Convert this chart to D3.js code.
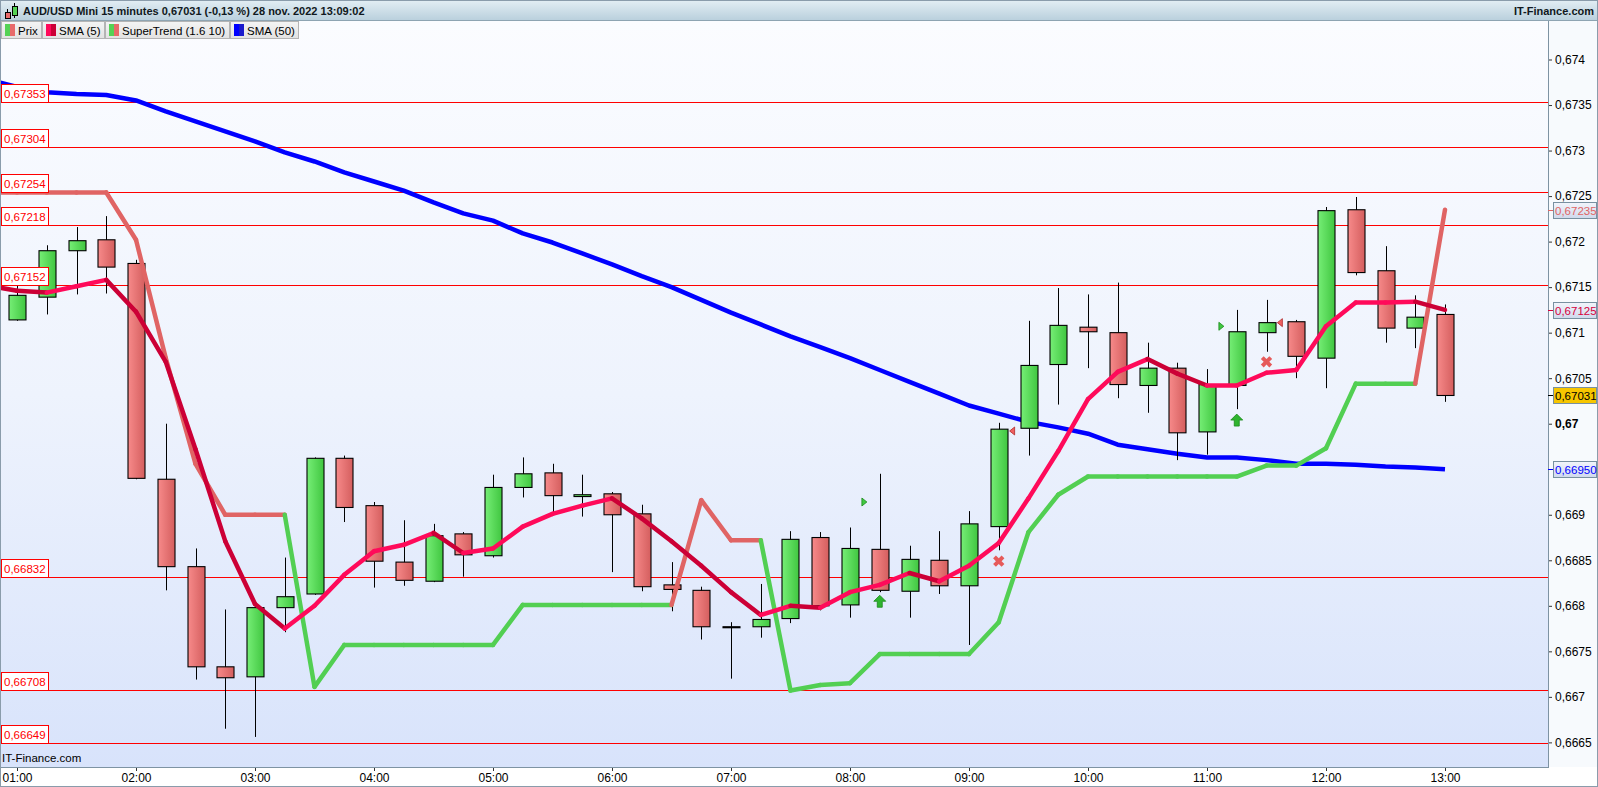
<!DOCTYPE html>
<html>
<head>
<meta charset="utf-8">
<script src="https://cdn.jsdelivr.net/npm/d3@7"></script>
<style>
  body { margin: 0; background: #fff; }
  svg { display: block; font-family: "Liberation Sans", Arial, sans-serif; }
</style>
</head>
<body>
<svg id="chart"></svg>
<script>
// ---------------------------------------------------------------- data
var times = ["01:00","01:15","01:30","01:45","02:00","02:15","02:30","02:45","03:00","03:15","03:30","03:45",
  "04:00","04:15","04:30","04:45","05:00","05:15","05:30","05:45","06:00","06:15","06:30","06:45",
  "07:00","07:15","07:30","07:45","08:00","08:15","08:30","08:45","09:00","09:15","09:30","09:45",
  "10:00","10:15","10:30","10:45","11:00","11:15","11:30","11:45","12:00","12:15","12:30","12:45","13:00"]
var opens = [0.67114,0.67139,0.67190,0.67202,0.67176,0.66939,0.66843,0.66733,0.66722,0.66798,0.66813,0.66962,
  0.66910,0.66848,0.66827,0.66879,0.66855,0.66930,0.66946,0.66920,0.66923,0.66901,0.66823,0.66817,
  0.66777,0.66777,0.66786,0.66875,0.66801,0.66862,0.66816,0.66850,0.66822,0.66887,0.66995,0.67065,
  0.67106,0.67100,0.67042,0.67061,0.66991,0.67042,0.67100,0.67112,0.67072,0.67235,0.67168,0.67105,0.67120]
var highs = [0.67152,0.67196,0.67216,0.67228,0.67180,0.67000,0.66863,0.66796,0.66800,0.66853,0.66963,0.66965,
  0.66914,0.66894,0.66890,0.66881,0.66944,0.66963,0.66956,0.66944,0.66925,0.66911,0.66848,0.66821,
  0.66782,0.66824,0.66882,0.66881,0.66886,0.66945,0.66866,0.66882,0.66904,0.67001,0.67113,0.67149,
  0.67142,0.67155,0.67089,0.67067,0.67060,0.67125,0.67136,0.67114,0.67238,0.67249,0.67195,0.67141,0.67131]
var lows = [0.67113,0.67120,0.67142,0.67143,0.66939,0.66817,0.66719,0.66665,0.66656,0.66771,0.66812,0.66892,
  0.66820,0.66822,0.66826,0.66832,0.66853,0.66919,0.66903,0.66898,0.66837,0.66816,0.66794,0.66763,
  0.66720,0.66765,0.66781,0.66795,0.66787,0.66815,0.66787,0.66813,0.66757,0.66861,0.66965,0.67021,
  0.67061,0.67028,0.67012,0.66960,0.66966,0.67016,0.67079,0.67050,0.67039,0.67163,0.67089,0.67083,0.67024]
var closes = [0.67141,0.67190,0.67201,0.67172,0.66940,0.66843,0.66733,0.66721,0.66798,0.66810,0.66962,0.66908,
  0.66849,0.66828,0.66877,0.66856,0.66930,0.66945,0.66921,0.66922,0.66900,0.66821,0.66818,0.66777,
  0.66777,0.66785,0.66873,0.66800,0.66863,0.66817,0.66851,0.66822,0.66890,0.66994,0.67064,0.67108,
  0.67101,0.67043,0.67061,0.66990,0.67043,0.67101,0.67111,0.67074,0.67234,0.67166,0.67105,0.67117,0.67031]

// indicator lines start one bar earlier (00:45) and get clipped at the left border
var lineTimes = ["00:45"].concat(times)
var sma5 = [0.67152,0.67146,0.67144,0.67151,0.67158,0.67123,0.67068,0.66972,0.66871,0.66802,0.66775,0.66800,0.66834,
  0.66860,0.66867,0.66880,0.66858,0.66863,0.66887,0.66901,0.66910,0.66918,0.66896,0.66871,0.66844,
  0.66815,0.66790,0.66800,0.66798,0.66815,0.66823,0.66836,0.66827,0.66844,0.66869,0.66918,0.66970,
  0.67027,0.67057,0.67071,0.67055,0.67042,0.67042,0.67056,0.67059,0.67107,0.67133,0.67133,0.67134,0.67125]
var superTrend = [0.67254,0.67254,0.67254,0.67254,0.67254,0.67202,0.67072,0.66956,0.66900,0.66900,0.66900,0.66711,0.66757,
  0.66757,0.66757,0.66757,0.66757,0.66757,0.66801,0.66801,0.66801,0.66801,0.66801,0.66801,0.66916,
  0.66872,0.66872,0.66707,0.66713,0.66715,0.66747,0.66747,0.66747,0.66747,0.66782,0.66881,0.66922,
  0.66942,0.66942,0.66942,0.66942,0.66942,0.66942,0.66954,0.66954,0.66973,0.67044,0.67044,0.67044,0.67235]
var superTrendDir = ["d","d","d","d","d","d","d","d","d","d","d","u","u","u","u","u","u","u","u","u","u","u","u","u",
  "d","d","d","u","u","u","u","u","u","u","u","u","u","u","u","u","u","u","u","u","u","u","u","u","u","d"]
var sma50 = [0.67378,0.67370,0.67364,0.67362,0.67361,0.67355,0.67343,0.67332,0.67321,0.67310,0.67298,0.67288,0.67276,
  0.67266,0.67256,0.67243,0.67231,0.67223,0.67209,0.67199,0.67187,0.67175,0.67162,0.67150,0.67136,
  0.67122,0.67109,0.67096,0.67084,0.67072,0.67059,0.67046,0.67033,0.67020,0.67011,0.67002,0.66996,
  0.66989,0.66977,0.66972,0.66967,0.66963,0.66963,0.66960,0.66956,0.66956,0.66955,0.66953,0.66952,0.66950]

var levels = [0.67353,0.67304,0.67254,0.67218,0.67152,0.66832,0.66708,0.66649]
// 0,6695 sits under the SMA(50) value box in the reference, so it is left out
var yTicks = [0.674,0.6735,0.673,0.6725,0.672,0.6715,0.671,0.6705,0.67,0.669,0.6685,0.668,0.6675,0.667,0.6665]

var upArrowTimes = ["08:15","11:15"], upArrowValues = [0.66805,0.67004]
var crossTimes = ["09:15","11:30"], crossValues = [0.66849,0.67068]
var buyFlagTimes = ["08:07","11:07"], buyFlagValues = [0.66914,0.67107]
var sellFlagTimes = ["09:22","11:37"], sellFlagValues = [0.66992,0.67111]

var lastValues = [
  { v: 0.67235, color: "#e06464", fill: "url(#boxGrad)" },
  { v: 0.67125, color: "#d6003c", fill: "url(#boxGrad)" },
  { v: 0.67031, color: "#000", fill: "#f7c600" },
  { v: 0.66950, color: "#0000ff", fill: "url(#boxGrad)" }
]

var legendItems = [
  { label: "Prix", c1: "#55d255", c2: "#e86a6a" },
  { label: "SMA (5)", c1: "#ff0a5a", c2: "#cc0036" },
  { label: "SuperTrend (1.6 10)", c1: "#55d255", c2: "#e86a6a" },
  { label: "SMA (50)", c1: "#0000ff", c2: "#1a1acc" }
]

// ---------------------------------------------------------------- layout
var W = 1598, H = 787
var plot = { left: 1, right: 1548, top: 21, bottom: 767 }
var fs = 11.5
var parse = d3.timeParse("%H:%M")
var comma = d3.formatLocale({ decimal: ",", thousands: " ", grouping: [3], currency: ["", ""] })
var fmtTick = comma.format(".6~g"), fmt5 = comma.format(".5f")

var xScale = d3.scaleTime().domain([parse("01:00"), parse("13:00")]).range([17, 1445])
var yScale = d3.scaleLinear().domain([0.67353, 0.66649]).range([102.3, 743.3])

var svg = d3.select("#chart").attr("width", W).attr("height", H)
var defs = svg.append("defs")

function grad(id, x2, y2, stops) {
  var g = defs.append("linearGradient").attr("id", id).attr("x1", 0).attr("y1", 0).attr("x2", x2).attr("y2", y2)
  stops.forEach((s, i) => g.append("stop").attr("offset", i / (stops.length - 1)).attr("stop-color", s))
}
grad("plotBg", 0, 1, ["#fbfcff", "#eef3fd", "#d8e3fb"])
grad("headBg", 0, 1, ["#e3eef4", "#b8cfdc"])
grad("greenBody", 1, 0, ["#76ee76", "#40c640"])
grad("redBody", 1, 0, ["#f78a8a", "#d45e5e"])
grad("boxGrad", 0, 1, ["#f2f5fb", "#cfd9ec"])
grad("legBg", 0, 1, ["#f4f4f4", "#e2e2e2"])

defs.append("clipPath").attr("id", "plotClip").append("rect")
  .attr("x", plot.left).attr("y", plot.top).attr("width", plot.right - plot.left).attr("height", plot.bottom - plot.top)

//------------------------------------------------------------------- backgrounds
svg.append("rect").attr("width", W).attr("height", H).attr("fill", "#fff")
svg.append("rect").attr("x", plot.right).attr("y", plot.top).attr("width", W - plot.right).attr("height", plot.bottom - plot.top).attr("fill", "#f7fafd")
svg.append("rect").attr("x", plot.left).attr("y", plot.top).attr("width", plot.right - plot.left).attr("height", plot.bottom - plot.top).attr("fill", "url(#plotBg)")

var g = svg.append("g").attr("clip-path", "url(#plotClip)")

//------------------------------------------------------------------- level lines
g.selectAll(".level").data(levels).join("line").attr("class", "level")
  .attr("x1", plot.left).attr("x2", plot.right)
  .attr("y1", d => Math.round(yScale(d)) + 0.5).attr("y2", d => Math.round(yScale(d)) + 0.5)
  .attr("stroke", "#ff0000").attr("stroke-width", 1)

//------------------------------------------------------------------- SMA 50
var line = d3.line().x((d, i) => xScale(parse(lineTimes[i]))).y(d => yScale(d))
g.append("path").attr("d", line(sma50)).attr("fill", "none").attr("stroke", "#0000ff")
  .attr("stroke-width", 4.5).attr("stroke-linejoin", "round")

//------------------------------------------------------------------- candles
var bw = 17
var candles = g.selectAll(".candle").data(times).join("g").attr("class", "candle")
  .attr("transform", d => "translate(" + Math.round(xScale(parse(d))) + ",0)")
candles.append("line")
  .attr("x1", 0.5).attr("x2", 0.5)
  .attr("y1", (d, i) => yScale(highs[i])).attr("y2", (d, i) => yScale(lows[i]))
  .attr("stroke", "#000").attr("stroke-width", 1)
candles.append("rect")
  .attr("x", -bw / 2 + 0.5).attr("width", bw)
  .attr("y", (d, i) => yScale(Math.max(opens[i], closes[i])))
  .attr("height", (d, i) => Math.max(1, Math.abs(yScale(opens[i]) - yScale(closes[i]))))
  .attr("fill", (d, i) => closes[i] > opens[i] ? "url(#greenBody)" : closes[i] < opens[i] ? "url(#redBody)" : "#000")
  .attr("stroke", "#000").attr("stroke-width", 1.1)

//------------------------------------------------------------------- SuperTrend
var stSegs = d3.range(1, superTrend.length).map(i => [i - 1, i])
g.selectAll(".st").data(stSegs).join("line").attr("class", "st")
  .attr("x1", d => xScale(parse(lineTimes[d[0]]))).attr("y1", d => yScale(superTrend[d[0]]))
  .attr("x2", d => xScale(parse(lineTimes[d[1]]))).attr("y2", d => yScale(superTrend[d[1]]))
  .attr("stroke", d => superTrendDir[d[1]] == "u" ? "#52cf52" : "#e06464")
  .attr("stroke-width", 4.5).attr("stroke-linecap", "round")

//------------------------------------------------------------------- SMA 5
var smaSegs = d3.range(1, sma5.length).map(i => [i - 1, i])
g.selectAll(".sma5").data(smaSegs).join("line").attr("class", "sma5")
  .attr("x1", d => xScale(parse(lineTimes[d[0]]))).attr("y1", d => yScale(sma5[d[0]]))
  .attr("x2", d => xScale(parse(lineTimes[d[1]]))).attr("y2", d => yScale(sma5[d[1]]))
  .attr("stroke", d => sma5[d[1]] >= sma5[d[0]] ? "#ff0a5a" : "#cc0036")
  .attr("stroke-width", 4.5).attr("stroke-linecap", "round")

//------------------------------------------------------------------- signals
g.selectAll(".uparrow").data(upArrowTimes).join("path").attr("class", "uparrow")
  .attr("transform", (d, i) => "translate(" + xScale(parse(d)) + "," + yScale(upArrowValues[i]) + ")")
  .attr("d", "M0,-6 L6,0 L2.5,0 L2.5,6 L-2.5,6 L-2.5,0 L-6,0 Z")
  .attr("fill", "#2fb42f").attr("stroke", "#1b8a1b").attr("stroke-width", 0.8)
g.selectAll(".cross").data(crossTimes).join("path").attr("class", "cross")
  .attr("transform", (d, i) => "translate(" + xScale(parse(d)) + "," + yScale(crossValues[i]) + ") rotate(45)")
  .attr("d", "M-2,-6 L2,-6 L2,-2 L6,-2 L6,2 L2,2 L2,6 L-2,6 L-2,2 L-6,2 L-6,-2 L-2,-2 Z")
  .attr("fill", "#e65a5a")
g.selectAll(".buyflag").data(buyFlagTimes).join("path").attr("class", "buyflag")
  .attr("transform", (d, i) => "translate(" + xScale(parse(d)) + "," + yScale(buyFlagValues[i]) + ")")
  .attr("d", "M-2,-4 L3,0 L-2,4 Z").attr("fill", "#40c840").attr("stroke", "#1b8a1b").attr("stroke-width", 0.8)
g.selectAll(".sellflag").data(sellFlagTimes).join("path").attr("class", "sellflag")
  .attr("transform", (d, i) => "translate(" + xScale(parse(d)) + "," + yScale(sellFlagValues[i]) + ")")
  .attr("d", "M2,-4 L-3,0 L2,4 Z").attr("fill", "#f06060").attr("stroke", "#b02a2a").attr("stroke-width", 0.8)

//------------------------------------------------------------------- level labels (left)
var lab = svg.selectAll(".lvlLab").data(levels).join("g").attr("class", "lvlLab")
  .attr("transform", d => "translate(1," + (Math.round(yScale(d)) - 17.5) + ")")
lab.append("rect").attr("x", 0.5).attr("width", 47).attr("height", 18).attr("fill", "#fff").attr("stroke", "#ff0000")
lab.append("text").attr("x", 3).attr("y", 13.5).attr("font-size", fs).attr("fill", "#ff0000").text(d => fmt5(d))

svg.append("text").attr("x", 2).attr("y", 762).attr("font-size", fs).attr("fill", "#000").text("IT-Finance.com")

//------------------------------------------------------------------- axes
var yAxis = svg.append("g").attr("transform", "translate(" + plot.right + ",0)")
  .call(d3.axisRight(yScale).tickValues(yTicks).tickSize(4).tickPadding(3).tickFormat(fmtTick))
yAxis.select(".domain").remove()
yAxis.selectAll(".tick line").attr("stroke", "#333")
yAxis.selectAll(".tick text").attr("font-size", fs + 0.5).attr("font-family", "Liberation Sans, Arial, sans-serif").attr("fill", "#000")
  .attr("font-weight", d => d == 0.67 ? "bold" : "normal")

var xAxis = svg.append("g").attr("transform", "translate(0," + plot.bottom + ")")
  .call(d3.axisBottom(xScale).ticks(d3.timeHour.every(1)).tickSize(4).tickPadding(2).tickFormat(d3.timeFormat("%H:%M")))
xAxis.select(".domain").remove()
xAxis.selectAll(".tick line").attr("stroke", "#333")
xAxis.selectAll(".tick text").attr("font-size", fs + 0.5).attr("font-family", "Liberation Sans, Arial, sans-serif").attr("fill", "#000")

// plot frame
svg.append("line").attr("x1", plot.right + 0.5).attr("x2", plot.right + 0.5).attr("y1", plot.top).attr("y2", plot.bottom).attr("stroke", "#7e93a3")
svg.append("line").attr("x1", 0).attr("x2", plot.right + 1).attr("y1", plot.bottom + 0.5).attr("y2", plot.bottom + 0.5).attr("stroke", "#7e93a3")

//------------------------------------------------------------------- last value boxes (right)
var lv = svg.selectAll(".lastVal").data(lastValues).join("g").attr("class", "lastVal")
  .attr("transform", d => "translate(0," + Math.round(yScale(d.v)) + ")")
lv.append("line").attr("x1", plot.right).attr("x2", plot.right + 5).attr("y1", 0.5).attr("y2", 0.5).attr("stroke", d => d.color)
lv.append("rect").attr("x", 1553.5).attr("y", -7.5).attr("width", 43).attr("height", 16)
  .attr("fill", d => d.fill).attr("stroke", "#7890a0")
lv.append("text").attr("x", 1555).attr("y", 4.5).attr("font-size", fs).attr("fill", d => d.color).text(d => fmt5(d.v))

//------------------------------------------------------------------- header
svg.append("rect").attr("width", W).attr("height", 21).attr("fill", "url(#headBg)")
svg.append("line").attr("x1", 0).attr("x2", W).attr("y1", 20.5).attr("y2", 20.5).attr("stroke", "#8ea4b2")
var icon = svg.append("g").attr("transform", "translate(3,2)")
icon.append("line").attr("x1", 4.5).attr("x2", 4.5).attr("y1", 7).attr("y2", 17).attr("stroke", "#000")
icon.append("rect").attr("x", 2.5).attr("y", 10.5).attr("width", 5).attr("height", 6).attr("fill", "#e86a6a").attr("stroke", "#000")
icon.append("line").attr("x1", 11.5).attr("x2", 11.5).attr("y1", 1).attr("y2", 16).attr("stroke", "#000")
icon.append("rect").attr("x", 9.5).attr("y", 4.5).attr("width", 5).attr("height", 9).attr("fill", "#55d255").attr("stroke", "#000")
svg.append("text").attr("x", 23).attr("y", 15).attr("font-size", 11).attr("font-weight", "bold").attr("fill", "#101820")
  .text("AUD/USD Mini 15 minutes 0,67031 (-0,13 %) 28 nov. 2022 13:09:02")
svg.append("text").attr("x", 1594).attr("y", 15).attr("text-anchor", "end").attr("font-size", 11).attr("font-weight", "bold").attr("fill", "#101820")
  .text("IT-Finance.com")

//------------------------------------------------------------------- legend
var lx = 1
legendItems.forEach(item => {
  var lg = svg.append("g").attr("transform", "translate(" + lx + ",21)")
  var bg = lg.append("rect").attr("x", 0.5).attr("y", 0.5).attr("height", 17).attr("fill", "url(#legBg)").attr("stroke", "#b4b4b4")
  lg.append("rect").attr("x", 4).attr("y", 3).attr("width", 5).attr("height", 12).attr("fill", item.c1)
  lg.append("rect").attr("x", 9).attr("y", 3).attr("width", 5).attr("height", 12).attr("fill", item.c2)
  var t = lg.append("text").attr("x", 17).attr("y", 13.5).attr("font-size", fs).attr("fill", "#000").text(item.label)
  var w = Math.ceil(t.node().getComputedTextLength()) + 20
  bg.attr("width", w)
  lx += w + 1
})

// outer frame
svg.append("rect").attr("x", 0.5).attr("y", 0.5).attr("width", W - 1).attr("height", H - 1).attr("fill", "none").attr("stroke", "#8a9cab")
</script>
</body>
</html>
